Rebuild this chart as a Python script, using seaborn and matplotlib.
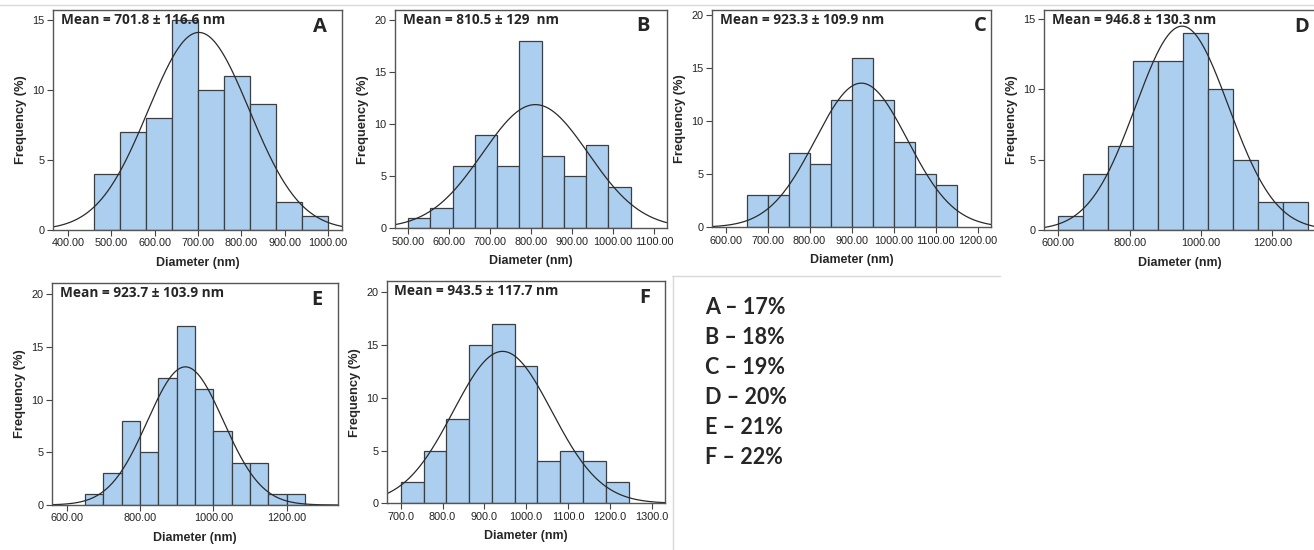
import matplotlib
matplotlib.use("Agg")
import matplotlib.pyplot as plt
from matplotlib.lines import Line2D
from matplotlib.ticker import FormatStrFormatter
import seaborn as sns
import numpy as np
import pandas as pd

# histogram data (counts per bin)
panel_letters = ["A", "B", "C", "D", "E", "F"]
mean_nm = [701.8, 810.5, 923.3, 946.8, 923.7, 943.5]
sd_nm = [116.6, 129.0, 109.9, 130.3, 103.9, 117.7]
mean_labels = ["Mean = 701.8 ± 116.6 nm", "Mean = 810.5 ± 129  nm", "Mean = 923.3 ± 109.9 nm",
               "Mean = 946.8 ± 130.3 nm", "Mean = 923.7 ± 103.9 nm", "Mean = 943.5 ± 117.7 nm"]
bin_start = [460, 500, 650, 600, 650, 700]
bin_width = [60, 54.3, 50, 70, 50, 54.5]
counts_a = [4, 7, 8, 15, 10, 11, 9, 2, 1]
counts_b = [1, 2, 6, 9, 6, 18, 7, 5, 8, 4]
counts_c = [3, 3, 7, 6, 12, 16, 12, 8, 5, 4]
counts_d = [1, 4, 6, 12, 12, 14, 10, 5, 2, 2]
counts_e = [1, 3, 8, 5, 12, 17, 11, 7, 4, 4, 1, 1]
counts_f = [2, 5, 8, 15, 17, 13, 4, 5, 4, 2]
counts = [counts_a, counts_b, counts_c, counts_d, counts_e, counts_f]
curve_peak = [14.1, 11.9, 13.6, 14.5, 13.1, 14.4]  # height of the fitted normal curve

xticks = [np.arange(400, 1001, 100), np.arange(500, 1101, 100), np.arange(600, 1201, 100),
          np.arange(600, 1201, 200), np.arange(600, 1201, 200), np.arange(700, 1301, 100)]
xfmt = ["%.2f", "%.2f", "%.2f", "%.2f", "%.2f", "%.1f"]
yticks = [[0, 5, 10, 15], [0, 5, 10, 15, 20], [0, 5, 10, 15, 20],
          [0, 5, 10, 15], [0, 5, 10, 15, 20], [0, 5, 10, 15, 20]]
xlims = [(364.7, 1032), (468, 1131), (567, 1232), (560, 1322), (559, 1340), (666.5, 1332)]
ylims = [15.7, 21.0, 20.5, 15.65, 21.05, 21.07]

legend_lines = ["A – 17%", "B – 18%", "C – 19%", "D – 20%", "E – 21%", "F – 22%"]

# layout in pixels: left, right, top, bottom
boxes = [(52.7, 342, 10, 230), (395, 666.7, 10, 228.3), (711.7, 991, 10, 227.3),
         (1044, 1316, 10, 230), (51.7, 338, 283, 505), (386.7, 665, 281, 503.3)]
letter_x = [0.925, 0.913, 0.96, 0.948, 0.927, 0.928]

W, H = 1314, 550
sns.set_style("white")
plt.rcParams["font.family"] = ["Liberation Sans", "DejaVu Sans"]

fig = plt.figure(figsize=(W / 100, H / 100), dpi=100)
fig.patch.set_facecolor("white")

bar_color = "#acceef"
edge_color = "#3a3f44"

for i in range(6):
    l, r, t, b = boxes[i]
    ax = fig.add_axes([l / W, 1 - b / H, (r - l) / W, (b - t) / H])
    n = len(counts[i])
    edges = bin_start[i] + bin_width[i] * np.arange(n + 1)
    centers = (edges[:-1] + edges[1:]) / 2
    df = pd.DataFrame({"diameter": centers, "freq": counts[i]})
    sns.histplot(data=df, x="diameter", weights="freq", bins=edges.tolist(), ax=ax,
                 color=bar_color, alpha=1, edgecolor=edge_color, linewidth=0.9)

    xs = np.linspace(xlims[i][0], xlims[i][1], 300)
    ys = curve_peak[i] * np.exp(-0.5 * ((xs - mean_nm[i]) / sd_nm[i]) ** 2)
    sns.lineplot(x=xs, y=ys, ax=ax, color="#2a2a2a", linewidth=0.9)

    ax.set_xlim(*xlims[i])
    ax.set_ylim(0, ylims[i])
    ax.set_xticks(xticks[i])
    ax.xaxis.set_major_formatter(FormatStrFormatter(xfmt[i]))
    ax.set_yticks(yticks[i])
    ax.tick_params(bottom=True, left=True, direction="out", length=4, width=0.8,
                   color="#444444", labelsize=7.8, labelcolor="#222222", pad=2)
    for sp in ax.spines.values():
        sp.set_visible(True)
        sp.set_color("#555555")
        sp.set_linewidth(1.0)
    ax.set_xlabel("Diameter (nm)", fontsize=8.9, fontweight="bold", labelpad=6)
    ax.set_ylabel("Frequency (%)", fontsize=9.3, fontweight="bold", labelpad=4)

    ax.text(0.028, 0.955, mean_labels[i], transform=ax.transAxes, fontsize=9.8,
            fontweight="bold", va="center", ha="left", family=["Open Sans", "DejaVu Sans"])
    ax.text(letter_x[i], 0.925, panel_letters[i], transform=ax.transAxes, fontsize=14.5,
            fontweight="bold", va="center", ha="center", family=["Open Sans", "DejaVu Sans"])

# percent key on the right
for k, s in enumerate(legend_lines):
    fig.text(705 / W, 1 - (307 + 30 * k) / H, s, fontsize=15.5, fontweight="bold",
             va="center", ha="left", family=["Lato", "DejaVu Sans"])

# faint separator lines from the composite screenshot
sep = dict(color="#d9d9d9", linewidth=1.0, transform=fig.transFigure)
fig.add_artist(Line2D([0, 1], [1 - 5 / H, 1 - 5 / H], **sep))
fig.add_artist(Line2D([672 / W, 1000 / W], [1 - 276 / H, 1 - 276 / H], **sep))
fig.add_artist(Line2D([673 / W, 673 / W], [0, 1 - 276 / H], **sep))

fig.savefig("out.png", dpi=100, facecolor="white")
